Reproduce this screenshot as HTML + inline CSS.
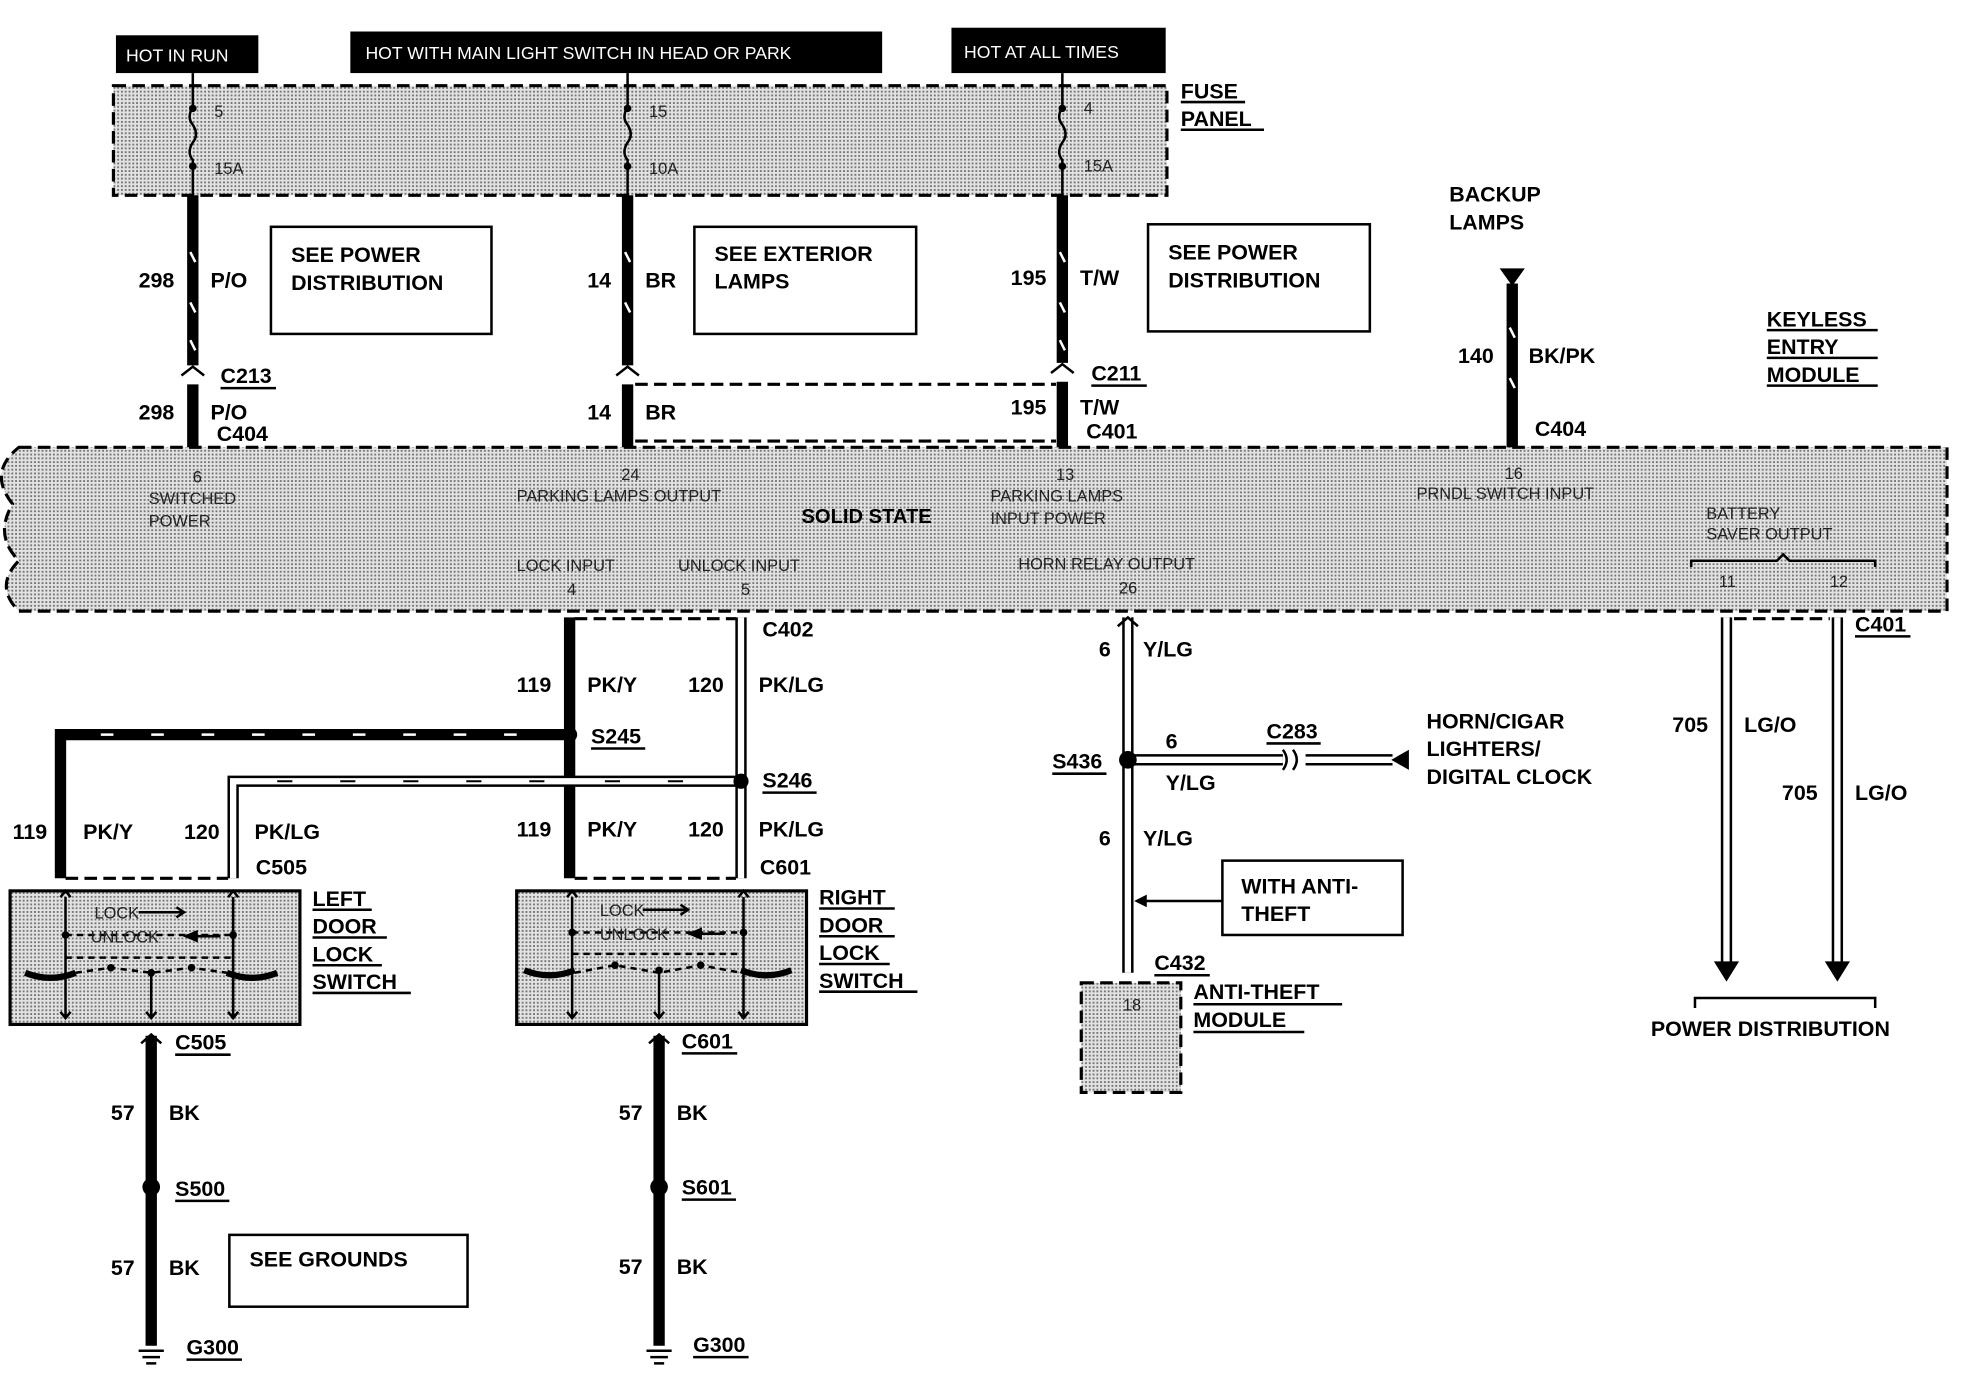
<!DOCTYPE html>
<html><head><meta charset="utf-8"><style>
html,body{margin:0;padding:0;background:#fff;}
svg{display:block;}
text{font-family:"Liberation Sans",Arial,sans-serif;font-weight:bold;fill:#000;}
.s{font-size:17px;}
.m{font-size:13px;font-weight:normal;fill:#222;}
.w{fill:#fff;font-size:14px;font-weight:normal;}
.dash{stroke:#000;stroke-width:2.5;stroke-dasharray:10 5;fill:none;}
.thk{stroke:#000;stroke-width:9;fill:none;}
.hol{stroke:#000;stroke-width:9;fill:none;}
.holi{stroke:#fff;stroke-width:5;fill:none;}
.ln{stroke:#000;stroke-width:2;fill:none;}
</style></head><body>
<svg width="1976" height="1376" viewBox="0 0 1568 1092" preserveAspectRatio="none" xmlns="http://www.w3.org/2000/svg">
<defs>
<pattern id="dots" width="3" height="3" patternUnits="userSpaceOnUse">
<rect width="3" height="3" fill="#e2e2e2"/><rect width="1.5" height="1.5" fill="#777"/>
</pattern>
</defs>
<rect width="1568" height="1092" fill="#fff"/>
<!-- top labels -->
<rect x="92" y="28" width="113" height="30" fill="#000"/><text class="w" x="100" y="49">HOT IN RUN</text>
<rect x="278" y="25" width="422" height="33" fill="#000"/><text class="w" x="290" y="47">HOT WITH MAIN LIGHT SWITCH IN HEAD OR PARK</text>
<rect x="755" y="22" width="170" height="36" fill="#000"/><text class="w" x="765" y="46">HOT AT ALL TIMES</text>
<!-- fuse panel -->
<rect x="90" y="68" width="836" height="87" class="dash" style="fill:url(#dots)"/>
<text class="s" x="937" y="78">FUSE</text><line class="ln" x1="937" y1="81" x2="988" y2="81"/>
<text class="s" x="937" y="100">PANEL</text><line class="ln" x1="937" y1="103" x2="1003" y2="103"/>
<g class="ln">
<path d="M153 58 V85 M153 85 q-5 8 0 14 q5 8 0 14 q-5 8 0 14 V155"/>
<path d="M498 58 V85 M498 85 q-5 8 0 14 q5 8 0 14 q-5 8 0 14 V155"/>
<path d="M843 58 V85 M843 85 q-5 8 0 14 q5 8 0 14 q-5 8 0 14 V155"/>
</g>
<circle cx="153" cy="86" r="3"/><circle cx="153" cy="132" r="3"/>
<circle cx="498" cy="86" r="3"/><circle cx="498" cy="132" r="3"/>
<circle cx="843" cy="86" r="3"/><circle cx="843" cy="132" r="3"/>
<text class="m" x="170" y="93">5</text><text class="m" x="170" y="138">15A</text>
<text class="m" x="515" y="93">15</text><text class="m" x="515" y="138">10A</text>
<text class="m" x="860" y="90">4</text><text class="m" x="860" y="136">15A</text>
<!-- upper wires -->
<path class="thk" d="M153 155 V290 M153 305 V355"/>
<path class="thk" d="M498 155 V290 M498 305 V355"/>
<path class="thk" d="M843 155 V288 M843 303 V355"/>
<g stroke="#fff" stroke-width="2">
<path d="M151 200 l4 8 M151 240 l4 8 M151 270 l4 8 M496 200 l4 8 M496 240 l4 8 M841 200 l4 8 M841 240 l4 8 M841 270 l4 8"/>
</g>
<path class="ln" stroke-width="3" d="M144 298 l9 -7 l9 7 M489 298 l9 -7 l9 7 M834 296 l9 -7 l9 7"/>
<line class="dash" x1="504" y1="305" x2="838" y2="305" stroke-width="1.5"/>
<line class="dash" x1="504" y1="350" x2="838" y2="350" stroke-width="1.5"/>
<text class="s" x="110" y="228">298</text><text class="s" x="167" y="228">P/O</text>
<text class="s" x="110" y="333">298</text><text class="s" x="167" y="333">P/O</text>
<text class="s" x="175" y="304">C213</text><line class="ln" x1="175" y1="308" x2="219" y2="308"/>
<text class="s" x="172" y="350">C404</text>
<text class="s" x="466" y="228">14</text><text class="s" x="512" y="228">BR</text>
<text class="s" x="466" y="333">14</text><text class="s" x="512" y="333">BR</text>
<text class="s" x="802" y="226">195</text><text class="s" x="857" y="226">T/W</text>
<text class="s" x="802" y="329">195</text><text class="s" x="857" y="329">T/W</text>
<text class="s" x="866" y="302">C211</text><line class="ln" x1="866" y1="306" x2="910" y2="306"/>
<text class="s" x="862" y="348">C401</text>
<rect x="215" y="180" width="175" height="85" fill="none" class="ln"/>
<text class="s" x="231" y="208">SEE POWER</text><text class="s" x="231" y="230">DISTRIBUTION</text>
<rect x="551" y="180" width="176" height="85" fill="none" class="ln"/>
<text class="s" x="567" y="207">SEE EXTERIOR</text><text class="s" x="567" y="229">LAMPS</text>
<rect x="911" y="178" width="176" height="85" fill="none" class="ln"/>
<text class="s" x="927" y="206">SEE POWER</text><text class="s" x="927" y="228">DISTRIBUTION</text>
<!-- backup -->
<text class="s" x="1150" y="160">BACKUP</text><text class="s" x="1150" y="182">LAMPS</text>
<path d="M1190 213 h20 l-10 14z"/>
<path class="thk" d="M1200 225 V355"/>
<path stroke="#fff" stroke-width="2" d="M1198 260 l4 8 M1198 300 l4 8"/>
<text class="s" x="1157" y="288">140</text><text class="s" x="1213" y="288">BK/PK</text>
<text class="s" x="1218" y="346">C404</text>
<text class="s" x="1402" y="259">KEYLESS</text><line class="ln" x1="1402" y1="262" x2="1490" y2="262"/>
<text class="s" x="1402" y="281">ENTRY</text><line class="ln" x1="1402" y1="284" x2="1490" y2="284"/>
<text class="s" x="1402" y="303">MODULE</text><line class="ln" x1="1402" y1="306" x2="1490" y2="306"/>
<!-- module -->
<path d="M15 355 H1545 V485 H15 q-20 -20 0 -40 q-20 -20 -5 -45 q-20 -25 5 -45z" class="dash" style="fill:url(#dots)"/>
<text class="m" x="153" y="383">6</text>
<text class="m" x="118" y="400">SWITCHED</text><text class="m" x="118" y="418">POWER</text>
<text class="m" x="493" y="381">24</text><text class="m" x="410" y="398">PARKING LAMPS OUTPUT</text>
<text class="s" x="636" y="415" style="font-size:16px">SOLID STATE</text>
<text class="m" x="838" y="381">13</text><text class="m" x="786" y="398">PARKING LAMPS</text><text class="m" x="786" y="416">INPUT POWER</text>
<text class="m" x="1194" y="380">16</text><text class="m" x="1124" y="396">PRNDL SWITCH INPUT</text>
<text class="m" x="1354" y="412">BATTERY</text><text class="m" x="1354" y="428">SAVER OUTPUT</text>
<text class="m" x="410" y="453">LOCK INPUT</text><text class="m" x="450" y="472">4</text>
<text class="m" x="538" y="453">UNLOCK INPUT</text><text class="m" x="588" y="472">5</text>
<text class="m" x="808" y="452">HORN RELAY OUTPUT</text><text class="m" x="888" y="471">26</text>
<path class="ln" d="M1342 450 V445 H1410 l5 -5 l5 5 H1488 V450"/>
<text class="m" x="1364" y="466">11</text><text class="m" x="1452" y="466">12</text>
<!-- lock wires -->
<line class="dash" x1="456" y1="491" x2="584" y2="491" stroke-width="1.5"/>
<line class="dash" x1="456" y1="697" x2="584" y2="697" stroke-width="1.5"/>
<line class="dash" x1="52" y1="697" x2="181" y2="697" stroke-width="1.5"/>
<path class="thk" d="M452 490 V697"/>
<path class="hol" d="M588 490 V697"/><path class="holi" d="M588 490 V697"/>
<path class="thk" d="M452 583 H48 V697"/>
<path stroke="#fff" stroke-width="2" d="M80 583 h10 M120 583 h10 M160 583 h10 M200 583 h10 M240 583 h10 M280 583 h10 M320 583 h10 M360 583 h10 M400 583 h10"/>
<path class="hol" d="M588 620 H185 V697"/><path class="holi" d="M588 620 H185 V697"/>
<path stroke="#000" stroke-width="1.5" d="M220 620 h12 M270 620 h12 M320 620 h12 M370 620 h12 M420 620 h12 M480 620 h12 M530 620 h12"/>
<circle cx="452" cy="583" r="6"/><circle cx="588" cy="620" r="6"/>
<text class="s" x="469" y="590">S245</text><line class="ln" x1="469" y1="594" x2="512" y2="594"/>
<text class="s" x="605" y="625">S246</text><line class="ln" x1="605" y1="629" x2="648" y2="629"/>
<text class="s" x="605" y="505">C402</text>
<text class="s" x="410" y="549">119</text><text class="s" x="466" y="549">PK/Y</text>
<text class="s" x="546" y="549">120</text><text class="s" x="602" y="549">PK/LG</text>
<text class="s" x="10" y="666">119</text><text class="s" x="66" y="666">PK/Y</text>
<text class="s" x="146" y="666">120</text><text class="s" x="202" y="666">PK/LG</text>
<text class="s" x="410" y="664">119</text><text class="s" x="466" y="664">PK/Y</text>
<text class="s" x="546" y="664">120</text><text class="s" x="602" y="664">PK/LG</text>
<text class="s" x="203" y="694">C505</text><text class="s" x="603" y="694">C601</text>
<!-- switches -->
<g>
<rect x="8" y="707" width="230" height="106" fill="url(#dots)" stroke="#000" stroke-width="2.5"/>
<path class="ln" d="M52 712 V808 M185 712 V808 M120 770 V808 M48 712 l4 -5 l4 5 M181 712 l4 -5 l4 5 M48 803 l4 5 l4 -5 M116 803 l4 5 l4 -5 M181 803 l4 5 l4 -5"/>
<path d="M20 772 q20 8 40 0 M180 772 q20 8 40 0" stroke="#000" stroke-width="5" fill="none"/>
<path class="ln" stroke-dasharray="5 4" d="M52 742 H185 M52 760 H185 M60 772 L88 768 L120 772 L152 768 L180 772"/>
<circle cx="88" cy="768" r="3"/><circle cx="120" cy="772" r="3"/><circle cx="152" cy="768" r="3"/>
<circle cx="52" cy="742" r="3"/><circle cx="185" cy="742" r="3"/>
<text class="m" x="75" y="729">LOCK</text><path class="ln" d="M110 724 h35 M140 720 l6 4 l-6 4"/>
<text class="m" x="72" y="748">UNLOCK</text><path d="M145 743 l12 -5 v10z"/><path class="ln" d="M155 743 h20"/>
<text class="s" x="248" y="719">LEFT</text><line class="ln" x1="248" y1="722" x2="295" y2="722"/>
<text class="s" x="248" y="741">DOOR</text><line class="ln" x1="248" y1="744" x2="307" y2="744"/>
<text class="s" x="248" y="763">LOCK</text><line class="ln" x1="248" y1="766" x2="303" y2="766"/>
<text class="s" x="248" y="785">SWITCH</text><line class="ln" x1="248" y1="788" x2="326" y2="788"/>
</g>
<g>
<rect x="410" y="707" width="230" height="106" fill="url(#dots)" stroke="#000" stroke-width="2.5"/>
<path class="ln" d="M454 712 V808 M590 712 V808 M523 770 V808 M450 712 l4 -5 l4 5 M586 712 l4 -5 l4 5 M450 803 l4 5 l4 -5 M519 803 l4 5 l4 -5 M586 803 l4 5 l4 -5"/>
<path d="M416 770 q20 8 40 0 M588 770 q20 8 40 0" stroke="#000" stroke-width="5" fill="none"/>
<path class="ln" stroke-dasharray="5 4" d="M454 740 H590 M454 757 H590 M456 772 L488 766 L523 772 L556 766 L588 772"/>
<circle cx="488" cy="766" r="3"/><circle cx="523" cy="770" r="3"/><circle cx="556" cy="766" r="3"/>
<circle cx="454" cy="740" r="3"/><circle cx="590" cy="740" r="3"/>
<text class="m" x="476" y="727">LOCK</text><path class="ln" d="M510 722 h35 M540 718 l6 4 l-6 4"/>
<text class="m" x="476" y="746">UNLOCK</text><path d="M545 741 l12 -5 v10z"/><path class="ln" d="M555 741 h20"/>
<text class="s" x="650" y="718">RIGHT</text><line class="ln" x1="650" y1="721" x2="710" y2="721"/>
<text class="s" x="650" y="740">DOOR</text><line class="ln" x1="650" y1="743" x2="710" y2="743"/>
<text class="s" x="650" y="762">LOCK</text><line class="ln" x1="650" y1="765" x2="706" y2="765"/>
<text class="s" x="650" y="784">SWITCH</text><line class="ln" x1="650" y1="787" x2="728" y2="787"/>
</g>
<!-- grounds -->
<path class="thk" d="M120 822 V1068"/><path class="thk" d="M523 822 V1068"/>
<path class="ln" stroke-width="3" d="M112 828 l8 -7 l8 7 M515 828 l8 -7 l8 7"/>
<circle cx="120" cy="942" r="7"/><circle cx="523" cy="942" r="7"/>
<path class="ln" d="M110 1072 h20 M113 1077 h14 M116 1082 h8 M513 1072 h20 M516 1077 h14 M519 1082 h8"/>
<text class="s" x="139" y="833">C505</text><line class="ln" x1="139" y1="837" x2="183" y2="837"/>
<text class="s" x="541" y="832">C601</text><line class="ln" x1="541" y1="836" x2="585" y2="836"/>
<text class="s" x="88" y="889">57</text><text class="s" x="134" y="889">BK</text>
<text class="s" x="491" y="889">57</text><text class="s" x="537" y="889">BK</text>
<text class="s" x="139" y="949">S500</text><line class="ln" x1="139" y1="953" x2="182" y2="953"/>
<text class="s" x="541" y="948">S601</text><line class="ln" x1="541" y1="952" x2="584" y2="952"/>
<text class="s" x="88" y="1012">57</text><text class="s" x="134" y="1012">BK</text>
<text class="s" x="491" y="1011">57</text><text class="s" x="537" y="1011">BK</text>
<text class="s" x="148" y="1075">G300</text><line class="ln" x1="148" y1="1079" x2="192" y2="1079"/>
<text class="s" x="550" y="1073">G300</text><line class="ln" x1="550" y1="1077" x2="594" y2="1077"/>
<rect x="182" y="980" width="189" height="57" fill="none" class="ln"/>
<text class="s" x="198" y="1005">SEE GROUNDS</text>
<!-- horn -->
<path class="hol" d="M895 490 V772"/><path class="holi" d="M895 490 V772"/>
<path class="ln" stroke-width="3" d="M887 497 l8 -7 l8 7"/>
<path class="hol" d="M895 603 H1018 M1036 603 H1105"/><path class="holi" d="M895 603 H1018 M1036 603 H1105"/>
<path class="ln" stroke-width="2.5" d="M1018 595 q6 8 0 16 M1026 595 q6 8 0 16"/>
<path d="M1118 595 v16 l-14 -8z"/>
<circle cx="895" cy="603" r="7"/>
<text class="s" x="872" y="521">6</text><text class="s" x="907" y="521">Y/LG</text>
<text class="s" x="835" y="610">S436</text><line class="ln" x1="835" y1="614" x2="878" y2="614"/>
<text class="s" x="925" y="594">6</text><text class="s" x="925" y="627">Y/LG</text>
<text class="s" x="1005" y="586">C283</text><line class="ln" x1="1005" y1="590" x2="1048" y2="590"/>
<text class="s" x="872" y="671">6</text><text class="s" x="907" y="671">Y/LG</text>
<text class="s" x="1132" y="578">HORN/CIGAR</text><text class="s" x="1132" y="600">LIGHTERS/</text><text class="s" x="1132" y="622">DIGITAL CLOCK</text>
<rect x="970" y="683" width="143" height="59" fill="none" class="ln"/>
<text class="s" x="985" y="709">WITH ANTI-</text><text class="s" x="985" y="731">THEFT</text>
<path class="ln" d="M970 715 H905"/><path d="M900 715 l10 -5 v10z"/>
<text class="s" x="916" y="770">C432</text><line class="ln" x1="916" y1="774" x2="960" y2="774"/>
<rect x="858" y="780" width="79" height="87" class="dash" style="fill:url(#dots)"/>
<text class="m" x="891" y="802">18</text>
<text class="s" x="947" y="793">ANTI-THEFT</text><line class="ln" x1="947" y1="797" x2="1065" y2="797"/>
<text class="s" x="947" y="815">MODULE</text><line class="ln" x1="947" y1="819" x2="1035" y2="819"/>
<!-- LG/O -->
<line class="dash" x1="1376" y1="491" x2="1452" y2="491" stroke-width="1.5"/>
<path class="hol" d="M1370 490 V765"/><path class="holi" d="M1370 490 V765"/>
<path class="hol" d="M1458 490 V765"/><path class="holi" d="M1458 490 V765"/>
<path d="M1360 763 h20 l-10 16z M1448 763 h20 l-10 16z"/>
<text class="s" x="1472" y="501">C401</text><line class="ln" x1="1472" y1="505" x2="1516" y2="505"/>
<text class="s" x="1327" y="581">705</text><text class="s" x="1384" y="581">LG/O</text>
<text class="s" x="1414" y="635">705</text><text class="s" x="1472" y="635">LG/O</text>
<path class="ln" d="M1345 800 V792 H1488 V800"/>
<text class="s" x="1310" y="822">POWER DISTRIBUTION</text>
</svg>
</body></html>
